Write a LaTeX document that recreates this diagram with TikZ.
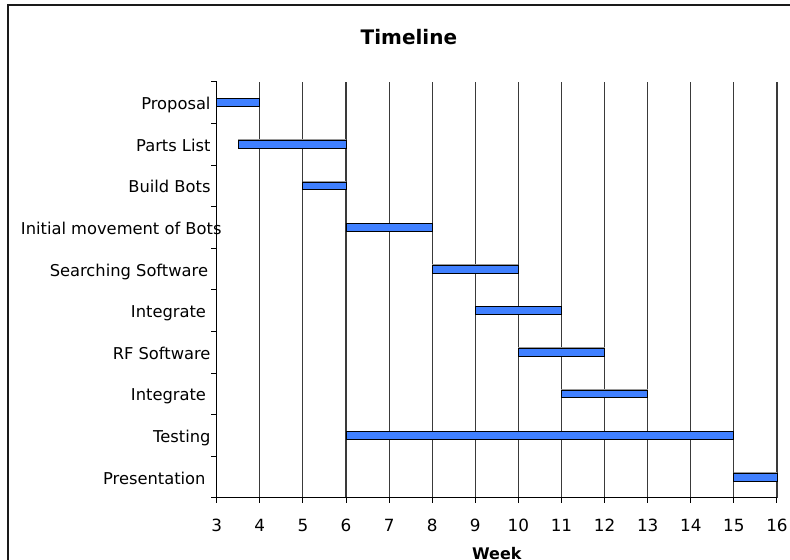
\documentclass[tikz,border=0pt]{standalone}
\usepackage{fontspec}
\setmainfont{DejaVu Sans}
\usepackage{tikz}
\usetikzlibrary{positioning}
\definecolor{barc}{HTML}{4080FF}
\definecolor{gridc}{HTML}{3A3A3A}
\definecolor{framec}{HTML}{1A1A1A}
\definecolor{shadc}{HTML}{9A9A9A}
\tikzset{
  frame/.style={draw=framec,line width=1.3pt},
  vline/.style={draw=gridc,line width=1.1pt},
  axisl/.style={draw=black,line width=1pt},
  bar/.style={draw=black,fill=barc,line width=0.9pt},
  barsh/.style={draw=shadc,line width=1.4pt},
  tlabel/.style={font=\fontsize{16.3}{19}\selectfont,anchor=base east,inner sep=0pt,xshift=-6pt,yshift=-7pt},
  wk/.style={font=\fontsize{16.8}{19}\selectfont,anchor=base,inner sep=0pt,yshift=-33.5pt},
  ttl/.style={font=\fontsize{20}{24}\selectfont\bfseries,anchor=base,inner sep=0pt},
}
\newcommand{\gtask}[6][]{\node[tlabel,#1] (#2) at (3,#3) {#6};
  \draw[barsh] (#4,#3+0.105) -- (#5,#3+0.105);
  \draw[bar] (#4,#3-0.095) rectangle (#5,#3+0.095);}

\begin{document}
\begin{tikzpicture}[x=43.1pt,y=41.6pt]
  \useasboundingbox (-2.028,-1.490) rectangle (16.302,11.971);
  \draw[frame] (-1.842,-1.7) |- (16.5,11.851);
  \node[ttl] (title) at (7.46,10.906) {Timeline};
  % week grid
  \foreach \w in {4,...,16} \draw[vline] (\w,0) -- (\w,10);
  \draw[axisl] (3,10) -- (3,0) -- (16,0);
  \foreach \k in {0,...,10} \draw[axisl] (3,\k) -- ++(-6pt,0);
  \foreach \w in {3,...,16} {\draw[axisl] (\w,0) -- ++(0,-5.5pt);
    \node[wk] (w\w) at (\w,0) {\w};}
  \node[ttl,font=\fontsize{16}{19}\selectfont\bfseries,yshift=-62pt] (week) at (9.5,0) {Week};
  % tasks
  \gtask{prop}{9.5}{3}{4}{Proposal}
  \gtask{parts}{8.5}{3.5}{6}{Parts List}
  \gtask{build}{7.5}{5}{6}{Build Bots}
  \gtask[xshift=11pt]{move}{6.5}{6}{8}{Initial movement of Bots}
  \gtask[xshift=-2.5pt]{search}{5.5}{8}{10}{Searching Software}
  \gtask[xshift=-4.5pt]{integ}{4.5}{9}{11}{Integrate}
  \gtask{rf}{3.5}{10}{12}{RF Software}
  \gtask[xshift=-4.5pt]{integb}{2.5}{11}{13}{Integrate}
  \gtask{test}{1.5}{6}{15}{Testing}
  \gtask[xshift=-5pt]{pres}{0.5}{15}{16}{Presentation}
\end{tikzpicture}
\end{document}
